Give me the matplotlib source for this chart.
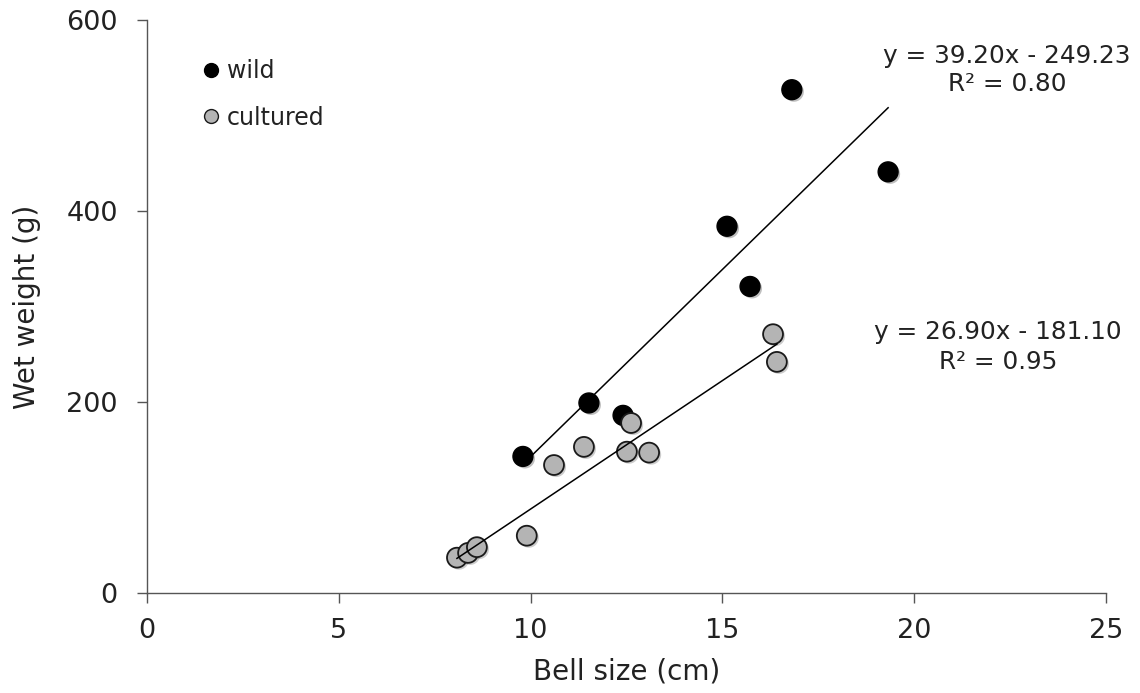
import matplotlib
matplotlib.use("Agg")
import matplotlib.pyplot as plt
from matplotlib.lines import Line2D
import matplotlib.patheffects as pe
import numpy as np

# Data
wild_x = [9.8, 11.52, 12.41, 15.12, 15.72, 16.81, 19.32]
wild_y = [143, 199, 186, 384, 321, 527, 441]
cult_x = [8.08, 8.37, 8.6, 9.9, 10.61, 11.39, 12.51, 12.62, 13.09, 16.32, 16.42]
cult_y = [37, 42, 48, 60, 134, 153, 148, 178, 147, 271, 242]
wild_fit = (39.20, -249.23)
cult_fit = (26.90, -181.10)
wild_eq = ["y = 39.20x - 249.23", "R² = 0.80"]
cult_eq = ["y = 26.90x - 181.10", "R² = 0.95"]
x_ticks = [0, 5, 10, 15, 20, 25]
y_ticks = [0, 200, 400, 600]

plt.rcParams['font.family'] = ['DejaVu Sans']
fig = plt.figure(figsize=(11.4, 6.93), dpi=100)
ax = fig.add_axes([147/1140, 100/693, 959/1140, 573/693])

shadow = [pe.SimplePatchShadow(offset=(1.5, -1.5), alpha=0.25), pe.Normal()]

ax.scatter(wild_x, wild_y, s=205, c='black', edgecolors='black', linewidths=1.0,
           zorder=3, path_effects=shadow)
ax.scatter(cult_x, cult_y, s=205, c='#b4b4b4', edgecolors='#1a1a1a', linewidths=1.3,
           zorder=4, path_effects=shadow)

for xs, fit in ((wild_x, wild_fit), (cult_x, cult_fit)):
    xr = np.array([min(xs), max(xs)])
    ax.plot(xr, fit[0] * xr + fit[1], color='black', lw=1.1, zorder=5)

ax.set_xlim(0, 25)
ax.set_ylim(0, 600)
ax.set_xticks(x_ticks)
ax.set_yticks(y_ticks)
ax.tick_params(axis='both', labelsize=19.5, length=7, width=1.0, color='#555555',
               labelcolor='#222222')
ax.tick_params(axis='y', pad=14)
ax.tick_params(axis='x', pad=11)
for s in ('top', 'right'):
    ax.spines[s].set_visible(False)
for s in ('left', 'bottom'):
    ax.spines[s].set_color('#555555')
    ax.spines[s].set_linewidth(1.0)

ax.set_xlabel("Bell size (cm)", fontsize=20, color='#222222', labelpad=10)
ax.set_ylabel("Wet weight (g)", fontsize=20, color='#222222', labelpad=18)

handles = [Line2D([], [], ls='none', marker='o', markersize=10, markerfacecolor='black',
                  markeredgecolor='black', label='wild'),
           Line2D([], [], ls='none', marker='o', markersize=10, markerfacecolor='#b4b4b4',
                  markeredgecolor='#1a1a1a', label='cultured')]
ax.legend(handles=handles, loc='upper left', bbox_to_anchor=(0.05, 0.948), frameon=False,
          fontsize=17, handlelength=0.6, handletextpad=0.35, labelspacing=0.95,
          borderaxespad=0, labelcolor='#222222')

def px_to_axes(px, py):
    return ((px - 147) / 959, (593 - py) / 573)

for (cx, cy1, cy2), lines in (((1007, 56, 84), wild_eq), ((998, 332, 362), cult_eq)):
    for cy, t in ((cy1, lines[0]), (cy2, lines[1])):
        ax_x, ax_y = px_to_axes(cx, cy)
        ax.text(ax_x, ax_y, t, transform=ax.transAxes, ha='center', va='center',
                fontsize=17.8, color='#222222', clip_on=False)

fig.savefig("out.png", dpi=100)
